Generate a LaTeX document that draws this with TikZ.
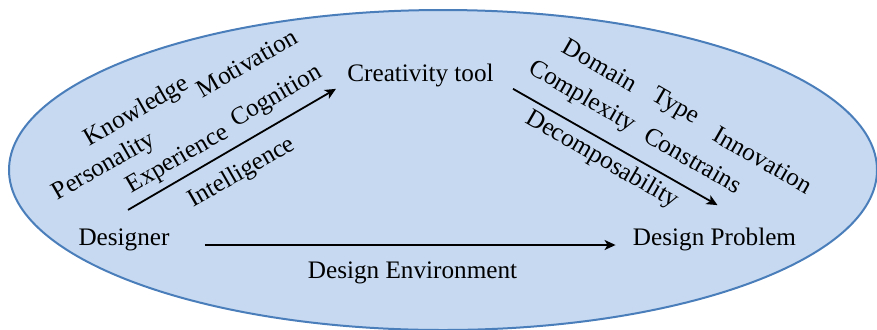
\documentclass[tikz,border=0pt]{standalone}
\usepackage{fontspec}
\setmainfont{Liberation Serif}
\usetikzlibrary{positioning, arrows.meta}

\definecolor{envfill}{RGB}{198,217,240}
\definecolor{envline}{RGB}{74,126,187}

\begin{document}
\begin{tikzpicture}[x=0.5pt, y=0.5pt, >={Stealth[length=5.5pt, width=5pt, inset=1.5pt]},
    every node/.style={font=\fontsize{12.6}{15}\selectfont, inner sep=2pt},
    factor/.style={rotate=30},
    property/.style={rotate=-30},
    link/.style={->, line width=0.9pt}]
    \useasboundingbox (0,0) rectangle (877,329);
    \draw[fill=envfill, draw=envline, line width=1pt] (443,159) ellipse (434 and 160);
    \node[anchor=base](designer) at (124,84){Designer};
    \node[anchor=base](tool) at (420.5,248){Creativity tool};
    \node[anchor=base](problem) at (714.5,84){Design Problem};
    \node[anchor=base](environment) at (412.5,51){Design Environment};
    % Designer factors
    \node[factor](knowledge) at (137,217){Knowledge};
    \node[factor](motivation) at (247,266){Motivation};
    \node[factor](personality) at (104,162){Personality};
    \node[factor](experience) at (178,169){Experience};
    \node[factor](cognition) at (277,232){Cognition};
    \node[factor](intelligence) at (242,156){Intelligence};
    % Problem properties
    \node[property](domain) at (600,264){Domain};
    \node[property](type) at (675,222){Type};
    \node[property](innovation) at (763,169){Innovation};
    \node[property](complexity) at (582,232){Complexity};
    \node[property](constrains) at (693,169){Constrains};
    \node[property](decomposability) at (602,169){Decomposability};
    % Arrows
    \draw[link, shorten <=15.5pt, shorten >=6.5pt] (designer.base east) -- (problem.base west);
    \draw[link] ([shift={(4,14)}]designer.north) -- ([shift={(-7,2)}]tool.south west);
    \draw[link] ([shift={(15,2)}]tool.south east) -- ([shift={(3,18)}]problem.north);
\end{tikzpicture}
\end{document}
